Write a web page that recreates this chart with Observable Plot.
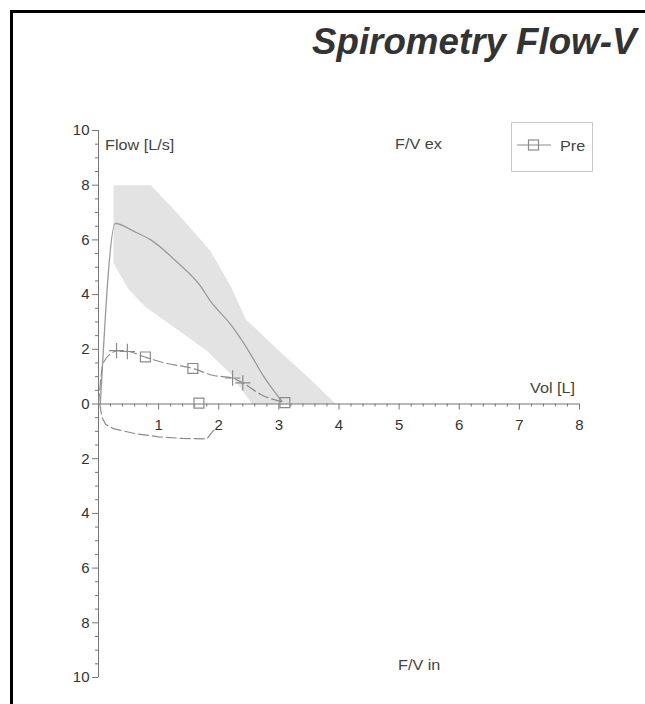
<!DOCTYPE html>
<html>
<head>
<meta charset="utf-8">
<script src="https://cdn.jsdelivr.net/npm/d3@7"></script>
<script src="https://cdn.jsdelivr.net/npm/@observablehq/plot@0.6"></script>
<style>
  html, body { margin: 0; padding: 0; background: #fff; overflow: hidden; }
  #page { position: relative; width: 645px; height: 704px; overflow: hidden; font-family: "Liberation Sans", Arial, sans-serif; }
  #frame { position: absolute; left: 10px; top: 10px; right: -10px; bottom: -10px; border-top: 3px solid #000; border-left: 3px solid #000; pointer-events: none; }
  #title { position: absolute; left: 312px; top: 24px; font-size: 36px; line-height: 1; font-weight: bold; font-style: italic; color: #333; white-space: nowrap; transform-origin: 0 0; transform: scaleX(1.02); }
  .lbl { position: absolute; font-size: 15px; line-height: 1; color: #444; white-space: nowrap; transform-origin: 0 0; transform: scaleX(1.08); }
  #legend { position: absolute; left: 511px; top: 122px; width: 80px; height: 48px; border: 1px solid #c8c8c8; background: #fff; }
  #plot { position: absolute; left: 0; top: 0; }
</style>
</head>
<body>
<div id="page">
  <div id="plot"></div>
  <div id="title">Spirometry Flow-V</div>
  <div class="lbl" style="left:105px; top:137px;">Flow [L/s]</div>
  <div class="lbl" style="left:395px; top:136px;">F/V ex</div>
  <div class="lbl" style="left:398px; top:657px;">F/V in</div>
  <div class="lbl" style="left:530px; top:380px;">Vol [L]</div>
  <div id="legend">
    <svg width="44" height="48" style="position:absolute; left:3px; top:0;">
      <line x1="2" y1="22" x2="36" y2="22" stroke="#8a8a8a" stroke-width="1.2"></line>
      <rect x="13.5" y="17" width="10" height="10" fill="none" stroke="#8a8a8a" stroke-width="1.2"></rect>
    </svg>
    <div class="lbl" style="left:48px; top:15px;">Pre</div>
  </div>
  <div id="frame"></div>
</div>
<script>
// Predicted mean curve
const predVol  = [0.03, 0.28, 0.6, 0.87, 1.3, 1.7, 1.85, 2.2, 2.48, 2.75, 3.05];
const predFlow = [0.0, 6.6, 6.3, 6.0, 5.2, 4.3, 3.8, 2.9, 2.0, 1.0, 0.1];
// Predicted normal range band: upper and lower limits
const bandUpVol  = [0.25, 0.87, 1.3, 1.86, 2.2, 2.45, 3.0, 3.5, 3.95];
const bandUpFlow = [8.0, 8.0, 7.0, 5.6, 4.3, 3.1, 1.95, 0.95, 0.0];
const bandLoVol  = [0.25, 0.5, 0.78, 1.2, 1.8, 2.2, 2.55];
const bandLoFlow = [5.15, 4.2, 3.55, 2.9, 1.95, 1.1, 0.0];
// Measured "Pre" curve, expiratory and inspiratory parts
const preExVol  = [0.0, 0.08, 0.25, 0.33, 0.5, 0.77, 1.1, 1.57, 1.9, 2.23, 2.4, 2.7, 3.1];
const preExFlow = [0.0, 1.5, 1.9, 1.95, 1.92, 1.72, 1.5, 1.3, 1.05, 0.95, 0.77, 0.35, 0.05];
const preInVol  = [0.02, 0.06, 0.12, 0.25, 0.6, 1.0, 1.4, 1.8, 1.9, 1.97];
const preInFlow = [0.0, -0.5, -0.75, -0.9, -1.08, -1.2, -1.26, -1.28, -1.0, -0.85];
// Markers on the Pre curve
const squareVol  = [0.78, 1.57, 1.67, 3.1];
const squareFlow = [1.72, 1.3, 0.03, 0.05];
const plusVol  = [0.3, 0.48, 2.23, 2.4];
const plusFlow = [1.95, 1.92, 0.95, 0.77];
// Axis ticks
const xLabels = [1, 2, 3, 4, 5, 6, 7, 8];
const xMajor = [0, 1, 2, 3, 4, 5, 6, 7, 8];
const yMajor = [-10, -8, -6, -4, -2, 0, 2, 4, 6, 8, 10];

const xMinor = d3.range(0, 8.001, 0.2).filter(v => Math.abs(v - Math.round(v)) > 1e-6);
const yMinor = d3.range(-10, 10.001, 0.5).filter(v => Math.abs(v / 2 - Math.round(v / 2)) > 1e-6);

const zip = (xs, ys) => xs.map((x, i) => ({x, y: ys[i]}));
const bandPoly = zip(bandUpVol, bandUpFlow).concat(zip(bandLoVol, bandLoFlow).reverse());
const pred = zip(predVol, predFlow);
const preEx = zip(preExVol, preExFlow);
const preIn = zip(preInVol, preInFlow);
const squares = zip(squareVol, squareFlow);
const pluses = zip(plusVol, plusFlow);

const lineGray = "#8a8a8a";
const axisGray = "#777";

const chart = Plot.plot({
  width: 645,
  height: 704,
  marginLeft: 98,
  marginRight: 66,
  marginTop: 130,
  marginBottom: 27,
  x: {domain: [0, 8], axis: null},
  y: {domain: [-10, 10], axis: null},
  style: {fontFamily: "'Liberation Sans', Arial, sans-serif", fontSize: "15px", background: "transparent", color: "#444", overflow: "visible"},
  marks: [
    Plot.line(bandPoly, {x: "x", y: "y", fill: "#e3e3e3", stroke: "none", curve: "linear-closed"}),
    Plot.line(pred, {x: "x", y: "y", stroke: "#9a9a9a", strokeWidth: 1.3, curve: "monotone-x"}),
    // axes
    Plot.ruleY([0], {x1: 0, x2: 8, stroke: axisGray, strokeWidth: 1}),
    Plot.ruleX([0], {y1: -10, y2: 10, stroke: axisGray, strokeWidth: 1}),
    Plot.ruleX(xMajor, {x: d => d, y1: 0, y2: 0, insetBottom: -6, stroke: axisGray}),
    Plot.ruleX(xMinor, {x: d => d, y1: 0, y2: 0, insetBottom: -3, stroke: axisGray}),
    Plot.ruleY(yMajor, {y: d => d, x1: 0, x2: 0, insetLeft: -6, stroke: axisGray}),
    Plot.ruleY(yMinor, {y: d => d, x1: 0, x2: 0, insetLeft: -3, stroke: axisGray}),
    Plot.text(xLabels, {x: d => d, y: 0, text: d => String(d), dy: 21, fill: "#333", fontSize: 15}),
    Plot.text(yMajor, {x: 0, y: d => d, text: d => String(Math.abs(d)), dx: -9, textAnchor: "end", fill: "#333", fontSize: 15}),
    // Pre curve
    Plot.line(preEx, {x: "x", y: "y", stroke: lineGray, strokeWidth: 1.2, strokeDasharray: "10,4", curve: "monotone-x"}),
    Plot.line(preIn, {x: "x", y: "y", stroke: lineGray, strokeWidth: 1.2, strokeDasharray: "10,4"}),
    Plot.dot(squares, {x: "x", y: "y", symbol: "square", r: 5.6, fill: "none", stroke: lineGray, strokeWidth: 1.2}),
    Plot.dot(pluses, {x: "x", y: "y", symbol: "plus", r: 5, stroke: lineGray, strokeWidth: 1.2})
  ]
});
document.getElementById("plot").appendChild(chart);
</script>
</body>
</html>
